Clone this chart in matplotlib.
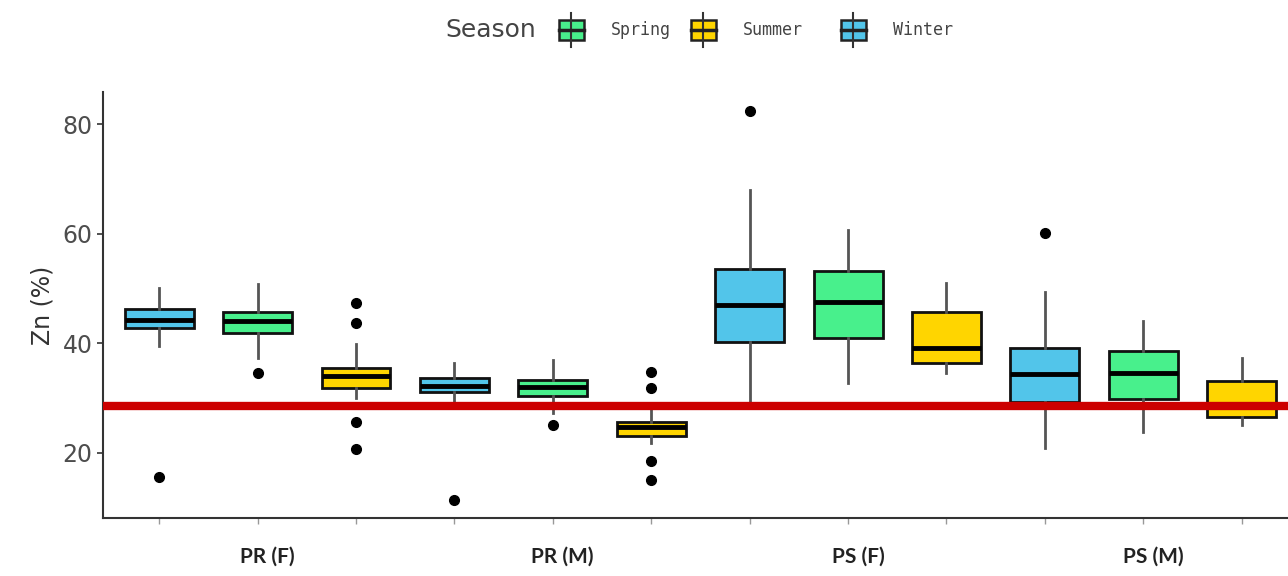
import matplotlib
matplotlib.use("Agg")
import matplotlib.pyplot as plt
from matplotlib.patches import Rectangle
from matplotlib.lines import Line2D

# groups on the x axis, each with Winter / Spring / Summer boxes
groups = ["PR (F)", "PR (M)", "PS (F)", "PS (M)"]
seasons = ["Winter", "Spring", "Summer"]
colors = {"Winter": "#52C5EA", "Spring": "#48F08C", "Summer": "#FFD500"}

# box stats, order: group x season
whislo = [39.5, 37.3, 30.0, 29.1, 27.3, 21.8, 28.8, 32.8, 34.6, 20.9, 23.8, 25.1]
q1 = [42.8, 41.9, 31.9, 31.1, 30.4, 23.1, 40.2, 41.0, 36.4, 29.3, 29.8, 26.6]
med = [44.3, 44.1, 34.0, 32.2, 32.0, 24.8, 47.0, 47.5, 39.1, 34.4, 34.6, 28.5]
q3 = [46.3, 45.7, 35.5, 33.7, 33.3, 25.7, 53.5, 53.2, 45.7, 39.1, 38.6, 33.1]
whishi = [50.1, 50.8, 39.9, 36.4, 37.0, 28.0, 68.0, 60.7, 51.0, 49.4, 44.1, 37.3]
fliers = [[15.6], [34.6], [47.4, 43.7, 25.6, 20.7],
          [11.4], [25.1], [34.8, 31.9, 18.5, 15.1],
          [82.4], [], [],
          [60.1], [], []]

threshold = 28.6

stats = []
for i in range(len(med)):
    stats.append({"whislo": whislo[i], "q1": q1[i], "med": med[i], "q3": q3[i],
                  "whishi": whishi[i], "fliers": fliers[i]})

fig = plt.figure(figsize=(12.88, 5.76), dpi=100)
ax = fig.add_axes([0.080, 0.1007, 0.920, 0.7396])

positions = list(range(len(stats)))
bp = ax.bxp(stats, positions=positions, widths=0.7, patch_artist=True, showcaps=False,
            boxprops=dict(edgecolor="#111111", linewidth=2),
            medianprops=dict(color="black", linewidth=3.5),
            whiskerprops=dict(color="#555555", linewidth=2),
            flierprops=dict(marker="o", markerfacecolor="black", markeredgecolor="black",
                            markersize=7))
for i, box in enumerate(bp["boxes"]):
    box.set_facecolor(colors[seasons[i % 3]])

ax.axhline(threshold, color="#CC0000", linewidth=6, zorder=10)

ax.set_xlim(-0.57, 11.47)
ax.set_ylim(8.14, 85.84)
ax.set_xticks(positions)
ax.set_xticklabels([""] * len(positions))
ax.set_yticks([20, 40, 60, 80])
ax.tick_params(axis="y", labelsize=17, labelcolor="#4d4d4d", color="#333333", length=4, width=1.2)
ax.tick_params(axis="x", color="#999999", length=4, width=1)
for s in ["top", "right"]:
    ax.spines[s].set_visible(False)
for s in ["left", "bottom"]:
    ax.spines[s].set_color("#333333")
    ax.spines[s].set_linewidth(1.5)
ax.set_ylabel("Zn (%)", fontsize=17, color="#333333", labelpad=6)

# group labels under the middle box of each group
for g, name in enumerate(groups):
    ax.text(g * 3 + 1.1, -0.09, name, transform=ax.get_xaxis_transform(), ha="center", va="center",
            fontsize=15, fontweight="bold", family="Lato", color="#222222")

# legend at the top, drawn in figure pixels
W, H = 1288.0, 576.0
def fx(px):
    return px / W
def fy(py):
    return 1 - py / H

fig.text(fx(445), fy(30), "Season", fontsize=18, color="#444444", va="center", ha="left")
legend_items = [("Spring", 559, 611), ("Summer", 691, 743), ("Winter", 841, 893)]
for name, kx, tx in legend_items:
    fig.add_artist(Line2D([fx(kx + 12), fx(kx + 12)], [fy(13), fy(47)], color="#333333", lw=1.5))
    fig.add_artist(Rectangle((fx(kx), fy(40)), fx(25), 20 / H, facecolor=colors[name],
                             edgecolor="#222222", lw=1.8))
    fig.add_artist(Line2D([fx(kx), fx(kx + 25)], [fy(30), fy(30)], color="#222222", lw=2.5))
    fig.text(fx(tx), fy(30), name, fontsize=12, color="#444444", va="center", ha="left",
             family="DejaVu Sans Mono")

fig.savefig("out.png", dpi=100)
